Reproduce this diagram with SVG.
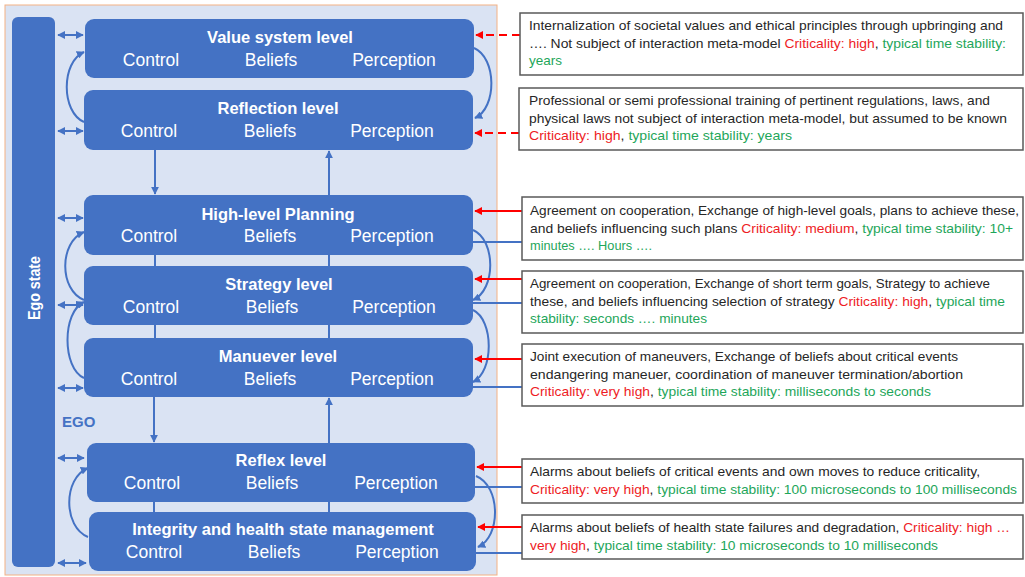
<svg xmlns="http://www.w3.org/2000/svg" width="1025" height="577" viewBox="0 0 1025 577">
<style>
.lvl{fill:#4472c4}
.tt{font-family:"Liberation Sans",Arial,sans-serif;font-weight:bold;font-size:16.5px;fill:#fff;text-anchor:middle}
.lb{font-family:"Liberation Sans",Arial,sans-serif;font-size:17.5px;fill:#fff;text-anchor:middle}
.tb{fill:#fff;stroke:#595959;stroke-width:1.5}
.tx{font-family:"Liberation Sans",Arial,sans-serif;font-size:13.5px;fill:#262626}
.r{fill:#ee1c25}
.g{fill:#1ea65a}
.bl{stroke:#4472c4;stroke-width:2;fill:none}
.rd{stroke:#ff0000;stroke-width:2;fill:none}
</style>
<defs>
<marker id="ab" viewBox="0 0 10 10" refX="9" refY="5" markerWidth="4" markerHeight="4" orient="auto-start-reverse" markerUnits="strokeWidth"><path d="M0,0 L10,5 L0,10 z" fill="#4472c4"/></marker>
<marker id="ar" viewBox="0 0 10 10" refX="9" refY="5" markerWidth="4" markerHeight="4" orient="auto" markerUnits="strokeWidth"><path d="M0,0 L10,5 L0,10 z" fill="#ff0000"/></marker>
</defs>
<rect x="5" y="5" width="492" height="570" fill="#dae3f3" stroke="#f4b183" stroke-width="1"/>
<g id="ego-state">
<rect x="12" y="17" width="43" height="550" rx="6" class="lvl"/>
<text class="tt" transform="translate(40,288) rotate(-90)" style="font-size:16px" textLength="64" lengthAdjust="spacingAndGlyphs">Ego state</text>
</g>
<text id="ego-label" x="62" y="427" font-family="Liberation Sans,Arial,sans-serif" font-weight="bold" font-size="15" fill="#4472c4">EGO</text>
<g id="connectors">
<line class="bl" x1="58" y1="35" x2="83" y2="35" marker-start="url(#ab)" marker-end="url(#ab)"/>
<line class="bl" x1="58" y1="131" x2="83" y2="131" marker-start="url(#ab)" marker-end="url(#ab)"/>
<line class="bl" x1="58" y1="218" x2="83" y2="218" marker-start="url(#ab)" marker-end="url(#ab)"/>
<line class="bl" x1="58" y1="305" x2="83" y2="305" marker-start="url(#ab)" marker-end="url(#ab)"/>
<line class="bl" x1="58" y1="388" x2="83" y2="388" marker-start="url(#ab)" marker-end="url(#ab)"/>
<line class="bl" x1="58" y1="458" x2="84" y2="458" marker-start="url(#ab)" marker-end="url(#ab)"/>
<line class="bl" x1="58" y1="563" x2="86" y2="563" marker-start="url(#ab)" marker-end="url(#ab)"/>
<path class="bl" d="M84,122 C61,112 61,62 84,52" marker-end="url(#ab)"/>
<path class="bl" d="M84,300 C59,290 59,242 84,232" marker-end="url(#ab)"/>
<path class="bl" d="M84,378 C62,368 62,312 84,302" marker-end="url(#ab)"/>
<path class="bl" d="M88,537 C63,527 63,478 88,468" marker-end="url(#ab)"/>
<path class="bl" d="M474,48 C497,58 497,108 475,118" marker-end="url(#ab)"/>
<path class="bl" d="M473,230 C496,240 496,290 473,300" marker-end="url(#ab)"/>
<path class="bl" d="M473,310 C494,320 494,372 473,382" marker-end="url(#ab)"/>
<path class="bl" d="M476,476 C501,486 501,537 478,547" marker-end="url(#ab)"/>
<line class="bl" x1="155" y1="150" x2="155" y2="194" marker-end="url(#ab)"/>
<line class="bl" x1="329" y1="195" x2="329" y2="151" marker-end="url(#ab)"/>
<line class="bl" x1="155" y1="255" x2="155" y2="266"/>
<line class="bl" x1="329" y1="255" x2="329" y2="266"/>
<line class="bl" x1="155" y1="325" x2="155" y2="338"/>
<line class="bl" x1="329" y1="325" x2="329" y2="338"/>
<line class="bl" x1="154" y1="397" x2="154" y2="442" marker-end="url(#ab)"/>
<line class="bl" x1="329" y1="443" x2="329" y2="398" marker-end="url(#ab)"/>
<line class="bl" x1="154" y1="502" x2="154" y2="512"/>
<line class="bl" x1="329" y1="502" x2="329" y2="512"/>
<line class="rd" x1="520" y1="35" x2="476" y2="35" stroke-dasharray="8 5" marker-end="url(#ar)"/>
<line class="rd" x1="519" y1="133" x2="475" y2="133" stroke-dasharray="8 5" marker-end="url(#ar)"/>
<line class="rd" x1="522" y1="211" x2="475" y2="211" marker-end="url(#ar)"/>
<line class="rd" x1="522" y1="279" x2="475" y2="279" marker-end="url(#ar)"/>
<line class="rd" x1="522" y1="359" x2="475" y2="359" marker-end="url(#ar)"/>
<line class="rd" x1="522" y1="467" x2="477" y2="467" marker-end="url(#ar)"/>
<line class="rd" x1="522" y1="527" x2="478" y2="527" marker-end="url(#ar)"/>
<line class="bl" x1="473" y1="242" x2="522" y2="242"/>
<line class="bl" x1="473" y1="303" x2="522" y2="303"/>
<line class="bl" x1="473" y1="387" x2="522" y2="387"/>
<line class="bl" x1="475" y1="487" x2="522" y2="487"/>
<line class="bl" x1="476" y1="553" x2="522" y2="553"/>
</g>
<g id="value-system-level">
<rect x="85" y="19" width="389" height="59" rx="9" class="lvl"/>
<text class="tt" x="280" y="43">Value system level</text>
<text class="lb" x="151" y="66">Control</text><text class="lb" x="271" y="66">Beliefs</text><text class="lb" x="394" y="66">Perception</text>
</g>
<g id="reflection-level">
<rect x="84" y="90" width="389" height="60" rx="9" class="lvl"/>
<text class="tt" x="278" y="114">Reflection level</text>
<text class="lb" x="149" y="137">Control</text><text class="lb" x="270" y="137">Beliefs</text><text class="lb" x="392" y="137">Perception</text>
</g>
<g id="high-level-planning">
<rect x="84" y="195" width="389" height="60" rx="9" class="lvl"/>
<text class="tt" x="278" y="220">High-level Planning</text>
<text class="lb" x="149" y="242">Control</text><text class="lb" x="270" y="242">Beliefs</text><text class="lb" x="392" y="242">Perception</text>
</g>
<g id="strategy-level">
<rect x="84" y="266" width="389" height="59" rx="9" class="lvl"/>
<text class="tt" x="279" y="290">Strategy level</text>
<text class="lb" x="151" y="313">Control</text><text class="lb" x="272" y="313">Beliefs</text><text class="lb" x="394" y="313">Perception</text>
</g>
<g id="maneuver-level">
<rect x="84" y="338" width="389" height="59" rx="9" class="lvl"/>
<text class="tt" x="278" y="362">Manuever level</text>
<text class="lb" x="149" y="385">Control</text><text class="lb" x="270" y="385">Beliefs</text><text class="lb" x="392" y="385">Perception</text>
</g>
<g id="reflex-level">
<rect x="87" y="443" width="388" height="59" rx="9" class="lvl"/>
<text class="tt" x="281" y="466">Reflex level</text>
<text class="lb" x="152" y="489">Control</text><text class="lb" x="272" y="489">Beliefs</text><text class="lb" x="396" y="489">Perception</text>
</g>
<g id="integrity-level">
<rect x="89" y="512" width="387" height="59" rx="9" class="lvl"/>
<text class="tt" x="283" y="535">Integrity and health state management</text>
<text class="lb" x="154" y="558">Control</text><text class="lb" x="274" y="558">Beliefs</text><text class="lb" x="397" y="558">Perception</text>
</g>
<g id="note-value">
<rect x="520" y="13" width="503" height="62" class="tb"/>
<text class="tx" x="529" y="30" textLength="474" lengthAdjust="spacingAndGlyphs">Internalization of societal values and ethical  principles through upbringing and</text>
<text class="tx" x="529" y="47.5" textLength="477" lengthAdjust="spacingAndGlyphs">…. Not subject of interaction meta-model <tspan class="r">Criticality: high</tspan>, <tspan class="g">typical time stability:</tspan></text>
<text class="tx g" x="529" y="65" textLength="33" lengthAdjust="spacingAndGlyphs">years</text>
</g>
<g id="note-reflection">
<rect x="519" y="88" width="504" height="62" class="tb"/>
<text class="tx" x="529" y="105" textLength="461" lengthAdjust="spacingAndGlyphs">Professional or semi professional training of pertinent regulations, laws, and</text>
<text class="tx" x="529" y="122.5" textLength="478" lengthAdjust="spacingAndGlyphs">physical laws not subject of interaction meta-model, but assumed to be known</text>
<text class="tx" x="529" y="140" textLength="263" lengthAdjust="spacingAndGlyphs"><tspan class="r">Criticality: high</tspan>, <tspan class="g">typical time stability:  years</tspan></text>
</g>
<g id="note-planning">
<rect x="522" y="197" width="501" height="63" class="tb"/>
<text class="tx" x="530" y="215" textLength="489" lengthAdjust="spacingAndGlyphs">Agreement on cooperation, Exchange of high-level goals, plans to achieve these,</text>
<text class="tx" x="530" y="232.5" textLength="483" lengthAdjust="spacingAndGlyphs">and beliefs influencing such plans <tspan class="r">Criticality: medium</tspan>, <tspan class="g">typical time stability:  10+</tspan></text>
<text class="tx g" x="530" y="250" textLength="122" lengthAdjust="spacingAndGlyphs">minutes …. Hours ….</text>
</g>
<g id="note-strategy">
<rect x="522" y="271" width="501" height="62" class="tb"/>
<text class="tx" x="530" y="288" textLength="460" lengthAdjust="spacingAndGlyphs">Agreement on cooperation, Exchange of short term goals, Strategy to achieve</text>
<text class="tx" x="530" y="305.5" textLength="475" lengthAdjust="spacingAndGlyphs">these, and beliefs influencing selection of strategy <tspan class="r">Criticality: high</tspan>, <tspan class="g">typical time</tspan></text>
<text class="tx g" x="530" y="323" textLength="177" lengthAdjust="spacingAndGlyphs">stability:  seconds …. minutes</text>
</g>
<g id="note-maneuver">
<rect x="522" y="344" width="501" height="62" class="tb"/>
<text class="tx" x="530" y="361" textLength="428" lengthAdjust="spacingAndGlyphs">Joint execution of maneuvers, Exchange of beliefs about critical events</text>
<text class="tx" x="530" y="378.5" textLength="433" lengthAdjust="spacingAndGlyphs">endangering maneuer, coordination of maneuver termination/abortion</text>
<text class="tx" x="530" y="396" textLength="401" lengthAdjust="spacingAndGlyphs"><tspan class="r">Criticality: very high</tspan>, <tspan class="g">typical time stability: milliseconds to seconds</tspan></text>
</g>
<g id="note-reflex">
<rect x="522" y="459" width="501" height="44" class="tb"/>
<text class="tx" x="530" y="476" textLength="450" lengthAdjust="spacingAndGlyphs">Alarms about beliefs of critical events and own moves to reduce criticality,</text>
<text class="tx" x="530" y="493.5" textLength="487" lengthAdjust="spacingAndGlyphs"><tspan class="r">Criticality: very high</tspan>, <tspan class="g">typical time stability: 100 microseconds to 100 milliseconds</tspan></text>
</g>
<g id="note-integrity">
<rect x="522" y="515" width="501" height="44" class="tb"/>
<text class="tx" x="530" y="532" textLength="480" lengthAdjust="spacingAndGlyphs">Alarms about beliefs of health state failures and degradation, <tspan class="r">Criticality: high …</tspan></text>
<text class="tx" x="530" y="549.5" textLength="408" lengthAdjust="spacingAndGlyphs"><tspan class="r">very high</tspan>, <tspan class="g">typical time stability: 10 microseconds to 10 milliseconds</tspan></text>
</g>
</svg>
